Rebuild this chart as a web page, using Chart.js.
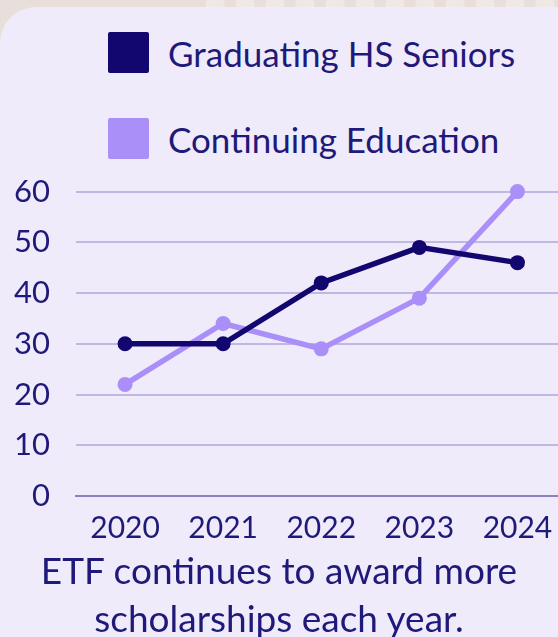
<!DOCTYPE html>
<html>
<head>
<meta charset="utf-8">
<script src="https://cdn.jsdelivr.net/npm/chart.js@4.4.1/dist/chart.umd.min.js"></script>
<style>
  html, body { margin: 0; padding: 0; }
  body {
    width: 558px; height: 637px; overflow: hidden; position: relative;
    background: #e8dfda; font-family: Lato, sans-serif;
  }
  #dots {
    position: absolute; left: 200px; top: -8px; width: 358px; height: 20px;
    background-image: radial-gradient(circle, #f1e9e6 9px, transparent 10px);
    background-size: 30px 26px;
    opacity: 0.9;
  }
  #card {
    position: absolute; left: 0; top: 7px; width: 558px; height: 630px;
    background: #efebfa; border-top-left-radius: 36px; overflow: hidden;
  }
  #chartBox { position: absolute; left: 0; top: 140px; width: 580px; height: 413px; }
  .leg { position: absolute; left: 108px; height: 41px; display: flex; align-items: center; }
  .leg span.box { width: 41px; height: 41px; border-radius: 2px; display: inline-block; }
  .leg span.txt { margin-left: 19px; font-size: 35px; color: #1f1a7a; white-space: nowrap; }
  #caption {
    position: absolute; left: 0; top: 539px; width: 558px; text-align: center;
    font-size: 37px; line-height: 48px; color: #1f1a7a;
  }
</style>
</head>
<body>
<div id="dots"></div>
<div id="card">
  <div id="legend"></div>
  <div id="chartBox"><canvas id="graphicFirst" width="574" height="413"></canvas></div>
  <div id="caption">ETF continues to award more<br>scholarships each year.</div>
</div>
<script>
// Becas por año
const years = ['2020', '2021', '2022', '2023', '2024'];
const seriesNames = ['Graduating HS Seniors', 'Continuing Education'];
const hsSeniors = [30, 30, 42, 49, 46];
const continuingEd = [22, 34, 29, 39, 60];
const yTicks = [0, 10, 20, 30, 40, 50, 60];

const darkColor = '#12076f';
const lightColor = '#aa8ff8';
const textColor = '#1f1a7a';

//-----LEGEND
function drawLegend(){
  const colors = [darkColor, lightColor];
  const tops = [25, 111];
  let html = '';
  seriesNames.forEach(function(name, i){
    html += '<div class="leg" style="top:' + tops[i] + 'px"><span class="box" style="background:' + colors[i] + '"></span><span class="txt">' + name + '</span></div>';
  });
  document.getElementById('legend').innerHTML = html;
}
drawLegend();

//-----GRAPHIC
let chart1;
function drawFirstElement(){
  var ctx = document.getElementById('graphicFirst').getContext('2d');
  if (chart1) {
    chart1.destroy();
  }
  chart1 = new Chart(ctx, {
    type: 'line',
    data: {
      labels: years,
      datasets: [
        {
          label: seriesNames[0],
          data: hsSeniors,
          borderColor: darkColor,
          backgroundColor: darkColor,
          borderWidth: 5.5,
          pointRadius: 7.5,
          pointBorderWidth: 0,
          tension: 0,
          clip: false
        },
        {
          label: seriesNames[1],
          data: continuingEd,
          borderColor: lightColor,
          backgroundColor: lightColor,
          borderWidth: 5.5,
          pointRadius: 7.5,
          pointBorderWidth: 0,
          tension: 0,
          clip: false
        }
      ]
    },
    options: {
      responsive: false,
      animation: false,
      layout: { padding: { top: 40, right: 0, bottom: 0, left: 0 } },
      plugins: { legend: { display: false }, tooltip: { enabled: false } },
      scales: {
        x: {
          offset: true,
          grid: { display: false, drawTicks: false },
          border: { display: true, color: '#8a80c4', width: 2 },
          ticks: { color: textColor, font: { family: 'Lato', size: 30 }, padding: 14, maxRotation: 0 }
        },
        y: {
          min: 0,
          max: 60,
          afterFit: function(scale){ scale.width = 76; },
          afterBuildTicks: function(scale){ scale.ticks = yTicks.map(v => ({ value: v })); },
          grid: { color: '#c0b7e3', lineWidth: 2, drawTicks: false },
          border: { display: false },
          ticks: { color: textColor, font: { family: 'Lato', size: 31 }, padding: 26 }
        }
      }
    }
  });
}
drawFirstElement();
</script>
</body>
</html>
